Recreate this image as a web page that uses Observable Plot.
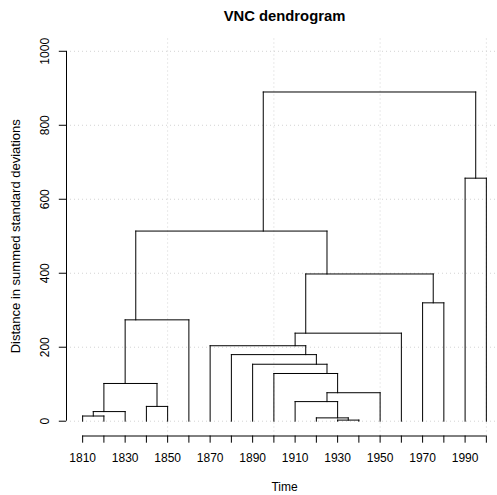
<!DOCTYPE html>
<html>
<head>
<meta charset="utf-8">
<script src="https://cdn.jsdelivr.net/npm/d3@7"></script>
<script src="https://cdn.jsdelivr.net/npm/@observablehq/plot@0.6"></script>
<style>
  html, body { margin: 0; padding: 0; background: #fff; }
  svg { display: block; }
</style>
</head>
<body>
<div id="chart"></div>
<script>
// Leaves (time periods, in order)
const years = [1810, 1820, 1830, 1840, 1850, 1860, 1870, 1880, 1890, 1900,
               1910, 1920, 1930, 1940, 1950, 1960, 1970, 1980, 1990, 2000];
// hclust-style merges: negative = leaf number (1-based), positive = earlier merge number
const mergeLeft   = [-13, -12, -1,  3, -4, -11,   6,   4, -10,  -9,  -8,  -7,  12,   8, -17,  13,  14, -19,  17];
const mergeRight  = [-14,   1, -2, -3, -5,   2, -15,   5,   7,   9,  10,  11, -16,  -6, -18,  15,  16, -20,  18];
const mergeHeight = [  3,   9, 14, 26, 40,  53,  77, 102, 129, 154, 180, 204, 238, 274, 320, 398, 514, 657, 890];

const xTickValues = years;
const xTickLabels = [1810, 1830, 1850, 1870, 1890, 1910, 1930, 1950, 1970, 1990];
const yTickValues = [0, 200, 400, 600, 800, 1000];
const gridXValues = [1850, 1900, 1950, 2000];
const gridYValues = [0, 200, 400, 600, 800, 1000];

const titleText = "VNC dendrogram";
const xLabelText = "Time";
const yLabelText = "Distance in summed standard deviations";

// R-style 4% axis padding
const xMin = years[0], xMax = years[years.length - 1];
const yMin = 0, yMax = 1000;
const xLim = [xMin - 0.04 * (xMax - xMin), xMax + 0.04 * (xMax - xMin)];
const yLim = [yMin - 0.04 * (yMax - yMin), yMax + 0.04 * (yMax - yMin)];

// Build dendrogram segments (nodes centred over their leaves)
const nodes = [];
function child(c) {
  if (c < 0) { const y = years[-c - 1]; return {lo: y, hi: y, h: 0}; }
  return nodes[c - 1];
}
const segs = [];
mergeHeight.forEach((h, i) => {
  const L = child(mergeLeft[i]), R = child(mergeRight[i]);
  const xl = (L.lo + L.hi) / 2, xr = (R.lo + R.hi) / 2;
  segs.push({x1: xl, y1: L.h, x2: xl, y2: h});
  segs.push({x1: xr, y1: R.h, x2: xr, y2: h});
  segs.push({x1: xl, y1: h, x2: xr, y2: h});
  nodes.push({lo: Math.min(L.lo, R.lo), hi: Math.max(L.hi, R.hi), h});
});

const font = "'Liberation Sans', Arial, Helvetica, sans-serif";
const W = 497, H = 495;
const mL = 66, mT = 36, mB = 59.5;

const chart = Plot.plot({
  width: W,
  height: H,
  marginLeft: mL,
  marginRight: 0,
  marginTop: mT,
  marginBottom: mB,
  style: {fontFamily: font, fontSize: "12px", background: "#fff", color: "#000", overflow: "hidden"},
  x: {type: "linear", domain: xLim, range: [mL, 502]},
  y: {type: "linear", domain: yLim, range: [H - mB, mT]},
  marks: [
    // grid
    Plot.ruleX(gridXValues, {x: d => d, y1: yLim[0], y2: yLim[1], stroke: "#D3D3D3", strokeWidth: 1, strokeDasharray: "1,3"}),
    Plot.ruleY(gridYValues, {y: d => d, x1: xLim[0], x2: xLim[1], stroke: "#D3D3D3", strokeWidth: 1, strokeDasharray: "1,3"}),
    // dendrogram
    Plot.link(segs, {x1: "x1", y1: "y1", x2: "x2", y2: "y2", stroke: "#000", strokeWidth: 1, strokeLinecap: "square"}),
    // axis lines
    Plot.ruleY([yLim[0]], {y: d => d, x1: xMin, x2: xMax, stroke: "#000", strokeWidth: 1}),
    Plot.ruleX([xLim[0]], {x: d => d, y1: yMin, y2: yMax, stroke: "#000", strokeWidth: 1}),
    // x axis ticks & labels
    Plot.axisX({
      anchor: "bottom", ticks: xTickValues, tickSize: 7.2, tickPadding: 10.5,
      tickFormat: d => xTickLabels.includes(d) ? String(d) : "",
      label: null, fontSize: 12, stroke: "#000"
    }),
    // y axis ticks
    Plot.axisY({
      anchor: "left", ticks: yTickValues, tickSize: 7.2,
      tickFormat: () => "", label: null, stroke: "#000"
    }),
    // y tick labels (rotated, parallel to axis)
    Plot.text(yTickValues, {
      y: d => d, text: d => String(d), frameAnchor: "left", dx: -17.8,
      rotate: -90, textAnchor: "middle", lineAnchor: "bottom", fontSize: 12, fill: "#000"
    }),
    // title
    Plot.text([titleText], {
      x: (xLim[0] + xLim[1]) / 2, text: d => d, frameAnchor: "top", dy: -16,
      lineAnchor: "bottom", textAnchor: "middle", fontSize: 14.8, fontWeight: "bold", fill: "#000"
    }),
    // x label
    Plot.text([xLabelText], {
      x: (xLim[0] + xLim[1]) / 2, text: d => d, frameAnchor: "bottom", dy: 54.5,
      lineAnchor: "bottom", textAnchor: "middle", fontSize: 12, fill: "#000"
    }),
    // y label
    Plot.text([yLabelText], {
      y: (yLim[0] + yLim[1]) / 2, text: d => d, frameAnchor: "left", dx: 19.4 - mL,
      rotate: -90, textAnchor: "middle", lineAnchor: "bottom", fontSize: 13, fill: "#000"
    })
  ]
});
document.getElementById("chart").appendChild(chart);
</script>
</body>
</html>
